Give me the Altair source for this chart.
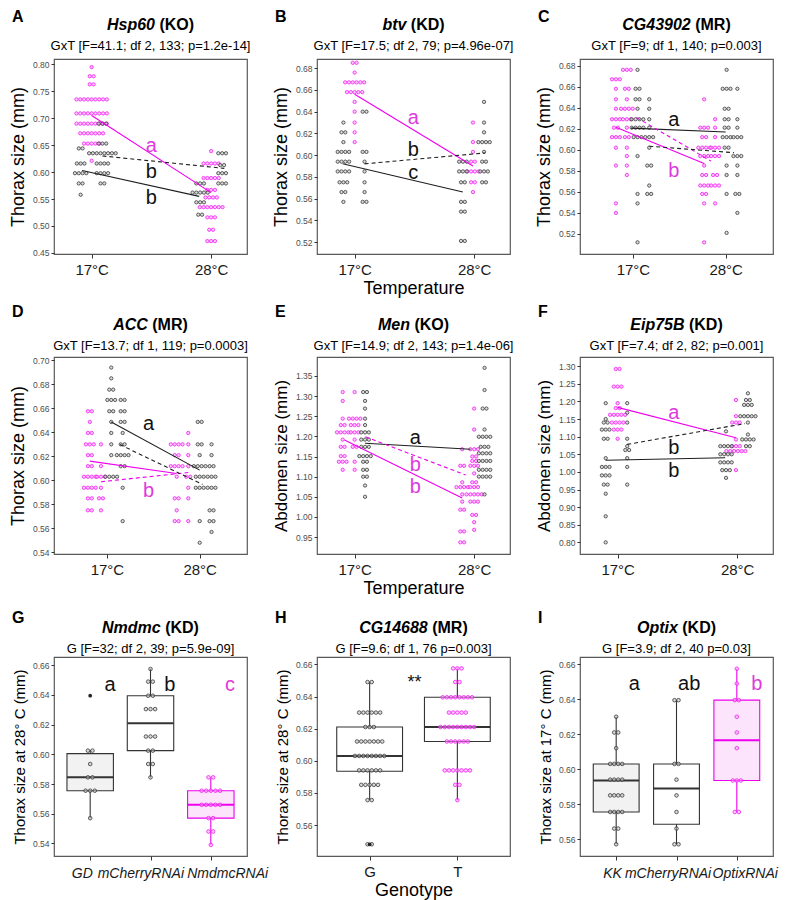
import altair as alt
import pandas as pd

FONT = "Liberation Sans"

# ------------------------------------------------------------------
# DATA: dot-plot bins as (value, number of dots)
# ------------------------------------------------------------------
# A  Hsp60 (KO)
A17_M = [(0.795, 1), (0.778, 2), (0.763, 2), (0.735, 9), (0.709, 9), (0.690, 9), (0.672, 7), (0.653, 5), (0.621, 1)]
A17_K1 = [(0.644, 2), (0.616, 3), (0.598, 4), (0.579, 2), (0.558, 1)]
A17_K2 = [(0.690, 3), (0.653, 3), (0.635, 8), (0.616, 4), (0.598, 4), (0.579, 2)]
A28_M = [(0.639, 1), (0.616, 5), (0.589, 5), (0.567, 3), (0.553, 4), (0.535, 7), (0.516, 3), (0.493, 2), (0.472, 3)]
A28_K1 = [(0.579, 3), (0.562, 5), (0.544, 3), (0.521, 2)]
A28_K2 = [(0.635, 3), (0.613, 2), (0.598, 3), (0.579, 3)]
A_MEANS = [(0.705, 0.562), (0.630, 0.607), (0.603, 0.555)]
A_LETTERS = [("a", 0.649), ("b", 0.601), ("b", 0.552)]

# B  btv (KD)
B17_M = [(0.685, 2), (0.676, 1), (0.667, 6), (0.658, 5), (0.649, 1), (0.640, 1), (0.630, 1), (0.621, 1), (0.612, 1)]
B17_K1 = [(0.630, 1), (0.621, 2), (0.612, 1), (0.603, 4), (0.594, 4), (0.585, 4), (0.575, 3), (0.566, 2), (0.557, 1)]
B17_K2 = [(0.640, 2), (0.603, 2), (0.594, 1), (0.585, 1), (0.575, 1), (0.566, 1), (0.557, 2)]
B28_M = [(0.630, 1), (0.612, 1), (0.603, 1), (0.594, 2), (0.585, 4), (0.575, 2), (0.566, 1)]
B28_K1 = [(0.594, 3), (0.585, 3), (0.575, 2), (0.557, 2), (0.548, 2), (0.521, 2)]
B28_K2 = [(0.649, 1), (0.630, 1), (0.621, 1), (0.612, 4), (0.603, 1), (0.594, 2), (0.585, 3), (0.575, 2)]
B_MEANS = [(0.656, 0.590), (0.592, 0.602), (0.592, 0.566)]
B_LETTERS = [("a", 0.634), ("b", 0.605), ("c", 0.584)]

# C  CG43902 (MR)
C17_M1 = [(0.667, 3), (0.658, 1), (0.648, 1), (0.639, 1), (0.629, 3), (0.621, 2), (0.612, 3), (0.602, 1), (0.585, 1), (0.549, 1), (0.540, 1)]
C17_M2 = [(0.676, 3), (0.658, 2), (0.648, 1), (0.639, 4), (0.629, 3), (0.621, 1), (0.612, 2), (0.602, 1), (0.594, 1), (0.585, 1), (0.576, 1)]
C17_K1 = [(0.676, 1), (0.658, 2), (0.648, 2), (0.639, 1), (0.629, 4), (0.621, 4), (0.612, 3), (0.594, 1), (0.558, 1), (0.549, 1), (0.512, 1)]
C17_K2 = [(0.648, 1), (0.639, 1), (0.629, 1), (0.621, 1), (0.612, 3), (0.602, 1), (0.585, 2), (0.566, 1), (0.558, 2)]
C28_M1 = [(0.648, 1), (0.621, 3), (0.612, 2), (0.602, 4), (0.594, 3), (0.585, 1), (0.576, 2), (0.566, 3), (0.558, 2), (0.549, 1), (0.512, 1)]
C28_M2 = [(0.629, 1), (0.621, 1), (0.612, 1), (0.602, 3), (0.594, 3), (0.576, 2), (0.566, 3), (0.549, 1)]
C28_K1 = [(0.676, 1), (0.658, 3), (0.639, 2), (0.629, 2), (0.621, 2), (0.612, 3), (0.602, 2), (0.585, 1), (0.576, 1), (0.558, 1), (0.521, 1)]
C28_K2 = [(0.658, 1), (0.629, 1), (0.621, 1), (0.612, 3), (0.594, 3), (0.585, 1), (0.576, 1), (0.558, 2), (0.540, 1)]
C_MEANS = [(0.6215, 0.587), (0.6306, 0.5894), (0.6206, 0.6169), (0.6034, 0.5972)]
C_LETTERS = [("a", 0.628), ("b", 0.580)]

# D  ACC (MR)
D17_M1 = [(0.6576, 2), (0.6487, 1), (0.6395, 2), (0.630, 3), (0.621, 2), (0.6118, 2), (0.603, 4), (0.5938, 4), (0.585, 2), (0.575, 2)]
D17_M2 = [(0.630, 1), (0.6118, 1), (0.603, 3), (0.5938, 1), (0.585, 2), (0.575, 1)]
D17_K1 = [(0.694, 1), (0.685, 1), (0.6756, 2), (0.667, 3), (0.6576, 2), (0.6487, 1), (0.6395, 1), (0.630, 1), (0.621, 1), (0.603, 4)]
D17_K2 = [(0.667, 2), (0.6576, 2), (0.6487, 2), (0.6395, 1), (0.630, 2), (0.621, 4), (0.6118, 2), (0.5938, 1), (0.566, 1)]
D28_M1 = [(0.630, 4), (0.621, 2), (0.6118, 4), (0.603, 1), (0.585, 2), (0.575, 1), (0.566, 2)]
D28_M2 = [(0.6395, 1), (0.630, 1), (0.621, 1), (0.6118, 1), (0.603, 2), (0.5938, 1), (0.585, 1), (0.566, 1)]
D28_K1 = [(0.6487, 2), (0.630, 2), (0.621, 1), (0.6118, 4), (0.603, 3), (0.5938, 3), (0.566, 1), (0.548, 1)]
D28_K2 = [(0.630, 1), (0.621, 1), (0.6118, 2), (0.603, 3), (0.5938, 3), (0.575, 2), (0.566, 2), (0.557, 1)]
D_MEANS = [(0.616, 0.6057), (0.5988, 0.6065), (0.6487, 0.6085), (0.6298, 0.5966)]
D_LETTERS = [("a", 0.647), ("b", 0.591)]

# E  Men (KO)
E17_M1 = [(1.310, 1), (1.288, 1), (1.244, 1), (1.228, 2), (1.210, 4), (1.192, 1), (1.174, 2), (1.151, 2), (1.137, 3), (1.117, 1)]
E17_M2 = [(1.310, 1), (1.244, 4), (1.228, 3), (1.210, 3), (1.192, 1), (1.174, 2), (1.137, 1), (1.117, 1)]
E17_K = [(1.310, 2), (1.288, 1), (1.269, 1), (1.244, 1), (1.228, 1), (1.210, 3), (1.192, 3), (1.174, 3), (1.151, 4), (1.137, 2), (1.117, 2), (1.100, 2), (1.078, 1), (1.050, 1)]
E28_M1 = [(1.168, 1), (1.127, 2), (1.086, 1), (1.074, 4), (1.056, 1), (1.038, 1), (1.018, 2), (0.964, 2), (0.937, 2)]
E28_M2 = [(1.269, 1), (1.217, 1), (1.168, 3), (1.150, 2), (1.139, 2), (1.127, 3), (1.108, 1), (1.086, 2), (1.074, 3), (1.056, 5), (1.038, 3), (1.005, 2), (0.987, 1), (0.968, 1)]
E28_K = [(1.370, 1), (1.315, 1), (1.269, 2), (1.217, 1), (1.199, 4), (1.174, 3), (1.158, 4), (1.139, 4), (1.117, 4), (1.100, 4), (1.056, 1)]
E_MEANS = [(1.191, 1.047), (1.199, 1.104), (1.183, 1.168)]
E_LETTERS = [("a", 1.195), ("b", 1.129), ("b", 1.074)]

# F  Eip75B (KD)
F17_M = [(1.292, 2), (1.242, 3), (1.195, 1), (1.181, 2), (1.162, 5), (1.140, 4), (1.120, 3), (1.094, 1)]
F17_K1 = [(1.195, 1), (1.150, 1), (1.140, 2), (1.120, 3), (1.094, 2), (1.039, 1), (1.014, 3), (0.990, 3), (0.964, 2), (0.938, 1), (0.874, 1), (0.800, 1)]
F17_K2 = [(1.195, 1), (1.168, 1), (1.140, 1), (1.094, 1), (1.073, 1), (1.062, 2), (1.039, 1), (1.014, 1), (0.964, 1)]
F28_M = [(1.204, 1), (1.158, 1), (1.140, 3), (1.092, 1), (1.073, 3), (1.059, 6), (1.005, 1)]
F28_K1 = [(1.115, 1), (1.073, 4), (1.050, 4), (1.027, 4), (1.005, 3), (0.983, 1)]
F28_K2 = [(1.223, 1), (1.204, 2), (1.190, 3), (1.158, 5), (1.140, 1), (1.106, 1), (1.092, 4), (1.073, 2)]
F_MEANS = [(1.183, 1.097), (1.078, 1.137), (1.033, 1.040)]
F_LETTERS = [("a", 1.167), ("b", 1.069), ("b", 1.003)]

# G  Nmdmc (KD)   box stats: (whisker low, q1, median, q3, whisker high)
G_CATS = ["GD", "mCherryRNAi", "NmdmcRNAi"]
G_GD = [(0.6025, 2), (0.5935, 1), (0.5845, 2), (0.5755, 3), (0.557, 1)]
G_MCH = [(0.6575, 1), (0.649, 2), (0.6395, 2), (0.6305, 3), (0.612, 3), (0.6025, 2), (0.5935, 2), (0.5845, 1)]
G_NMD = [(0.5845, 2), (0.5755, 5), (0.566, 5), (0.557, 2), (0.548, 2), (0.539, 1)]
G_BOX = [(0.557, 0.5755, 0.5845, 0.6005, 0.603), (0.5845, 0.6025, 0.621, 0.6395, 0.6575), (0.539, 0.557, 0.566, 0.5755, 0.5845)]
G_OUT = [(0, 0.6395)]
G_LETTERS = ["a", "b", "c"]

# H  CG14688 (MR)
H_CATS = ["G", "T"]
H_G = [(0.649, 2), (0.630, 6), (0.621, 3), (0.612, 7), (0.603, 8), (0.594, 6), (0.585, 5), (0.5755, 2), (0.548, 2)]
H_T = [(0.6575, 3), (0.649, 2), (0.6395, 8), (0.630, 5), (0.621, 9), (0.612, 6), (0.594, 7), (0.585, 2), (0.5755, 1)]
H_BOX = [(0.5755, 0.5935, 0.603, 0.621, 0.649), (0.5755, 0.612, 0.621, 0.6395, 0.6575)]
H_OUT = [(0, 0.548)]

# I  Optix (KD)
I_CATS = ["KK", "mCherryRNAi", "OptixRNAi"]
I_KK = [(0.630, 1), (0.621, 2), (0.612, 1), (0.603, 4), (0.594, 4), (0.585, 4), (0.5755, 4), (0.566, 2), (0.557, 1)]
I_MCH = [(0.6395, 2), (0.603, 2), (0.594, 1), (0.585, 1), (0.5755, 1), (0.566, 1), (0.557, 2)]
I_OPT = [(0.6575, 1), (0.649, 1), (0.6395, 2), (0.630, 1), (0.621, 1), (0.612, 1), (0.5935, 3), (0.5755, 2)]
I_BOX = [(0.557, 0.5755, 0.5935, 0.603, 0.630), (0.557, 0.5685, 0.589, 0.603, 0.6395), (0.5755, 0.5935, 0.6165, 0.6395, 0.6575)]
I_LETTERS = ["a", "ab", "b"]

# ------------------------------------------------------------------
# STYLE / LAYOUT
# ------------------------------------------------------------------
W = 193
ROW_H = [195, 197, 199]
# (gene title baseline, subtitle baseline, panel letter baseline) relative to plot top
ROW_OFF = [(-29.4, -9.4, -37.0), (-26.7, -6.7, -40.0), (-23.7, -4.3, -34.3)]

MAG = "#EE00EE"
MAG_TXT = "#DD3BDD"
MAG_DOT = "#F21DF2"
MAG_FILL = "#F7A0F7"
BLK = "#1E1E1E"
BLK_DOT = "#3A3A3A"
BLK_FILL = "#BEBEBE"
PINK_BOX = "#FCE4FC"
GREY_BOX = "#F2F2F2"
BOX_STROKE = "#333333"

COL = {"m": MAG, "k": BLK}
TXT_COL = {"m": MAG_TXT, "k": "#111111"}

AB_W = {'H': 722, 's': 556, 'p': 611, '6': 556, '0': 556, 'b': 611, 't': 333, 'v': 556, 'C': 722,
        'G': 778, '4': 556, '3': 556, '9': 556, '2': 556, 'A': 722, 'M': 833, 'e': 556, 'n': 611,
        'E': 667, 'i': 278, '7': 556, '5': 556, 'B': 722, 'N': 722, 'm': 889, 'd': 611, 'c': 556,
        '1': 556, '8': 556, 'O': 778, 'x': 556, 'K': 722, 'D': 722, 'R': 722, '(': 333, ')': 333,
        ' ': 278, 'o': 611}


def text_w(s, size):
    return sum(AB_W.get(ch, 600) for ch in s) * size / 1000.0


def one(text):
    return pd.DataFrame({"t": [text]})


def title_layers(gene, suffix, sub, letter, row):
    t_off, s_off, l_off = ROW_OFF[row]
    fs = 16
    wg, wsp, wsf = text_w(gene, fs), text_w(" ", fs), text_w(suffix, fs)
    xg = W / 2 - (wg + wsp + wsf) / 2 + wg
    return [
        alt.Chart(one(gene)).mark_text(align="right", baseline="alphabetic", fontSize=fs, fontWeight="bold",
                                       fontStyle="italic", color="black").encode(
            text="t:N", x=alt.value(xg), y=alt.value(t_off)),
        alt.Chart(one(suffix)).mark_text(align="left", baseline="alphabetic", fontSize=fs, fontWeight="bold",
                                         color="black").encode(
            text="t:N", x=alt.value(xg + wsp), y=alt.value(t_off)),
        alt.Chart(one(sub)).mark_text(align="center", baseline="alphabetic", fontSize=13,
                                      color="black").encode(
            text="t:N", x=alt.value(W / 2), y=alt.value(s_off)),
        alt.Chart(one(letter)).mark_text(align="left", baseline="alphabetic", fontSize=16, fontWeight="bold",
                                         color="black").encode(
            text="t:N", x=alt.value(-42), y=alt.value(l_off)),
    ]


def x_axis(values, labels, title, show_labels=True):
    expr = "'" + labels[-1] + "'"
    for v, lab in reversed(list(zip(values[:-1], labels[:-1]))):
        expr = "datum.value == %d ? '%s' : %s" % (v, lab, expr)
    kw = dict(values=values, labelExpr=expr, title=title, labelFontSize=15, labelColor="#1A1A1A",
              tickSize=4, tickColor="#333333", labelPadding=4, domain=False, grid=False,
              labelOverlap=False, labelFlush=False, titleFontSize=18, titleFontWeight="normal",
              titleColor="black", titlePadding=2, labels=show_labels)
    return alt.Axis(**kw)


def y_axis(values, title, tsize):
    return alt.Axis(values=values, format=".2f", labelFontSize=8.5, labelColor="#4D4D4D", tickSize=3,
                    tickColor="#333333", labelPadding=2, domain=False, grid=False, title=title,
                    titleFontSize=tsize, titleFontWeight="normal", titleColor="black", titlePadding=5,
                    labelFlush=False, labelOverlap=False)


def dot_layers(df, X, Y, size):
    out = []
    for kind, stroke, fill in (("m", MAG_DOT, MAG_FILL), ("k", BLK_DOT, BLK_FILL)):
        sub = df[df["kind"] == kind]
        if len(sub):
            out.append(alt.Chart(sub).mark_point(shape="circle", size=size, strokeWidth=0.8, opacity=1).encode(
                x=X, y=Y, fill=alt.value(fill), fillOpacity=alt.value(0.55), stroke=alt.value(stroke)))
    return out


def stack(rows, center, bins, step, kind):
    for v, n in bins:
        for k in range(n):
            rows.append({"x": center + (k - (n - 1) / 2) * step, "y": v, "kind": kind})


def gxt_panel(p, row):
    xdom = p["xdom"]
    ppu = W / (xdom[1] - xdom[0])
    step = p["dot_px"] / ppu
    rows = []
    for kind, b17, b28, o17, o28 in p["groups"]:
        stack(rows, 0 + o17, b17, step, kind)
        stack(rows, 1 + o28, b28, step, kind)
    df = pd.DataFrame(rows)
    xs = alt.Scale(domain=xdom, nice=False, zero=False)
    ys = alt.Scale(domain=p["ydom"], nice=False, zero=False)
    xa = x_axis([0, 1], ["17°C", "28°C"], p.get("xtitle"))
    ya = y_axis(p["yticks"], p["ytitle"], p.get("ytsize", 18))
    X = alt.X("x:Q", scale=xs, axis=xa)
    Y = alt.Y("y:Q", scale=ys, axis=ya)
    layers = dot_layers(df, X, Y, 11)
    seg = []
    for (kind, dashed, o17, o28), (v17, v28) in zip(p["lines"], p["means"]):
        seg.append({"x": 0 + o17, "x2": 1 + o28, "y": v17, "y2": v28, "c": COL[kind], "d": dashed})
    seg = pd.DataFrame(seg)
    for dashed in (False, True):
        sub = seg[seg["d"] == dashed]
        if len(sub):
            mk = dict(strokeWidth=1.1)
            if dashed:
                mk["strokeDash"] = [4, 3]
            layers.append(alt.Chart(sub).mark_rule(**mk).encode(
                x=X, x2=alt.X2("x2"), y=Y, y2=alt.Y2("y2"), color=alt.Color("c:N", scale=None)))
    lt = pd.DataFrame([{"x": p["letter_x"], "y": y, "t": t, "c": TXT_COL[k]}
                       for (t, y), k in zip(p["letters"], p["letter_kinds"])])
    layers.append(alt.Chart(lt).mark_text(fontSize=20, baseline="middle", align="center").encode(
        x=X, y=Y, text="t:N", color=alt.Color("c:N", scale=None)))
    layers += title_layers(p["gene"], p["suffix"], p["sub"], p["letter"], row)
    return alt.layer(*layers).properties(width=W, height=ROW_H[row])


def box_panel(p, row):
    xdom = p["xdom"]
    ppu = W / (xdom[1] - xdom[0])
    step = p["dot_px"] / ppu
    rows = []
    for i, (bins, kind) in enumerate(p["dots"]):
        stack(rows, i, bins, step, kind)
    df = pd.DataFrame(rows)
    hw = p["half"]
    bx = pd.DataFrame([{"x": i, "xl": i - hw, "xr": i + hw, "lo": b[0], "q1": b[1], "med": b[2],
                        "q3": b[3], "hi": b[4], "fill": f, "stroke": s}
                       for i, (b, f, s) in enumerate(zip(p["box"], p["fills"], p["strokes"]))])
    xs = alt.Scale(domain=xdom, nice=False, zero=False)
    ys = alt.Scale(domain=p["ydom"], nice=False, zero=False)
    n = len(p["cats"])
    custom = "label_x" in p
    xa = x_axis(list(range(n)), p["cats"], p.get("xtitle"), show_labels=not custom)
    ya = y_axis(p["yticks"], p["ytitle"], 15)
    X = lambda f: alt.X(f + ":Q", scale=xs, axis=xa)
    Y = lambda f: alt.Y(f + ":Q", scale=ys, axis=ya)
    layers = [
        alt.Chart(bx).mark_rule(strokeWidth=1.1).encode(
            x=X("x"), y=Y("lo"), y2=alt.Y2("hi"), color=alt.Color("stroke:N", scale=None)),
        alt.Chart(bx).mark_rect(strokeWidth=1.1).encode(
            x=X("xl"), x2=alt.X2("xr"), y=Y("q1"), y2=alt.Y2("q3"),
            fill=alt.Color("fill:N", scale=None), stroke=alt.Color("stroke:N", scale=None)),
        alt.Chart(bx).mark_rule(strokeWidth=2).encode(
            x=X("xl"), x2=alt.X2("xr"), y=Y("med"), color=alt.Color("stroke:N", scale=None)),
    ]
    layers += dot_layers(df, X("x"), Y("y"), 13)
    if p.get("out"):
        od = pd.DataFrame([{"x": i, "y": v} for i, v in p["out"]])
        layers.append(alt.Chart(od).mark_point(shape="circle", size=14, filled=True, opacity=1).encode(
            x=X("x"), y=Y("y"), color=alt.value("#222222")))
    lt = pd.DataFrame([{"x": x, "y": p["letter_y"], "t": t, "c": TXT_COL[k]}
                       for t, x, k in zip(p["letters"], p["letter_x"], p["letter_kinds"])])
    layers.append(alt.Chart(lt).mark_text(fontSize=p.get("letter_size", 20), baseline="middle",
                                          align="center").encode(
        x=X("x"), y=Y("y"), text="t:N", color=alt.Color("c:N", scale=None)))
    if custom:
        # italic category labels, set where the reference prints them
        cl = pd.DataFrame({"x": p["label_x"], "t": p["cats"]})
        layers.append(alt.Chart(cl).mark_text(fontSize=14, fontStyle="italic", baseline="top", align="center",
                                              color="#1A1A1A").encode(
            x=X("x"), y=alt.value(ROW_H[row] + 10.5), text="t:N"))
    layers += title_layers(p["gene"], p["suffix"], p["sub"], p["letter"], row)
    return alt.layer(*layers).properties(width=W, height=ROW_H[row])


def ticks(lo, hi, st):
    n = int(round((hi - lo) / st))
    return [round(lo + st * i, 2) for i in range(n + 1)]


XD3 = [-0.315, 1.30]
XD4 = [-0.57, 1.51]

PA = dict(gene="Hsp60", suffix="(KO)", sub="GxT [F=41.1; df 2, 133; p=1.2e-14]", letter="A",
          xdom=XD3, ydom=[0.448, 0.81], yticks=ticks(0.45, 0.80, 0.05), ytitle="Thorax size (mm)", dot_px=3.8,
          groups=[("m", A17_M, A28_M, 0.0, 0.0), ("k", A17_K1, A28_K1, -0.092, -0.092),
                  ("k", A17_K2, A28_K2, 0.09, 0.092)],
          lines=[("m", False, 0.0, 0.0), ("k", True, 0.09, 0.11), ("k", False, -0.08, -0.10)], means=A_MEANS,
          letters=A_LETTERS, letter_kinds=["m", "k", "k"], letter_x=0.5)
PB = dict(gene="btv", suffix="(KD)", sub="GxT [F=17.5; df 2, 79; p=4.96e-07]", letter="B",
          xdom=XD3, ydom=[0.509, 0.6885], yticks=ticks(0.52, 0.68, 0.02), ytitle="Thorax size (mm)", dot_px=3.8,
          xtitle="Temperature",
          groups=[("m", B17_M, B28_M, 0.0, -0.01), ("k", B17_K1, B28_K1, -0.094, -0.094),
                  ("k", B17_K2, B28_K2, 0.083, 0.083)],
          lines=[("m", False, 0.0, -0.01), ("k", True, 0.083, 0.09), ("k", False, -0.10, -0.095)], means=B_MEANS,
          letters=B_LETTERS, letter_kinds=["m", "k", "k"], letter_x=0.49)
PC = dict(gene="CG43902", suffix="(MR)", sub="GxT [F=9; df 1, 140; p=0.003]", letter="C",
          xdom=XD4, ydom=[0.5009, 0.6863], yticks=ticks(0.52, 0.68, 0.02), ytitle="Thorax size (mm)", dot_px=3.9,
          groups=[("m", C17_M1, C28_M1, -0.183, -0.232), ("m", C17_M2, C28_M2, -0.065, -0.114),
                  ("k", C17_K1, C28_K1, 0.05, 0.01), ("k", C17_K2, C28_K2, 0.176, 0.126)],
          lines=[("m", False, -0.183, -0.232), ("m", True, 0.04, -0.16), ("k", False, -0.02, 0.0),
                 ("k", True, 0.176, 0.09)], means=C_MEANS,
          letters=C_LETTERS, letter_kinds=["k", "m"], letter_x=0.44)
PD = dict(gene="ACC", suffix="(MR)", sub="GxT [F=13.7; df 1, 119; p=0.0003]", letter="D",
          xdom=XD4, ydom=[0.5386, 0.7028], yticks=ticks(0.54, 0.70, 0.02), ytitle="Thorax size (mm)", dot_px=3.9,
          groups=[("m", D17_M1, D28_M1, -0.184, -0.248), ("m", D17_M2, D28_M2, -0.064, -0.123),
                  ("k", D17_K1, D28_K1, 0.047, 0.0), ("k", D17_K2, D28_K2, 0.17, 0.128)],
          lines=[("m", False, -0.184, -0.248), ("m", True, -0.064, -0.123), ("k", False, 0.047, 0.0),
                 ("k", True, 0.14, 0.03)], means=D_MEANS,
          letters=D_LETTERS, letter_kinds=["k", "m"], letter_x=0.45)
PE = dict(gene="Men", suffix="(KO)", sub="GxT [F=14.9; df 2, 143; p=1.4e-06]", letter="E",
          xdom=XD3, ydom=[0.908, 1.397], yticks=ticks(0.95, 1.35, 0.05), ytitle="Abdomen size (mm)", ytsize=17,
          dot_px=3.8, xtitle="Temperature",
          groups=[("m", E17_M1, E28_M1, -0.10, -0.10), ("m", E17_M2, E28_M2, 0.0, 0.0),
                  ("k", E17_K, E28_K, 0.087, 0.087)],
          lines=[("m", False, -0.085, -0.10), ("m", True, 0.09, -0.07), ("k", False, 0.087, -0.03)], means=E_MEANS,
          letters=E_LETTERS, letter_kinds=["k", "m", "m"], letter_x=0.507)
PF = dict(gene="Eip75B", suffix="(KD)", sub="GxT [F=7.4; df 2, 82; p=0.001]", letter="F",
          xdom=XD3, ydom=[0.767, 1.326], yticks=ticks(0.80, 1.30, 0.05), ytitle="Abdomen size (mm)", ytsize=17,
          dot_px=3.8,
          groups=[("m", F17_M, F28_M, 0.0, -0.01), ("k", F17_K1, F28_K1, -0.10, -0.093),
                  ("k", F17_K2, F28_K2, 0.08, 0.09)],
          lines=[("m", False, 0.0, -0.01), ("k", True, 0.08, 0.065), ("k", False, -0.10, -0.10)], means=F_MEANS,
          letters=F_LETTERS, letter_kinds=["m", "k", "k"], letter_x=0.47)

PG = dict(gene="Nmdmc", suffix="(KD)", sub="G [F=32; df 2, 39; p=5.9e-09]", letter="G",
          cats=G_CATS, label_x=[-0.13, 0.84, 2.28], xdom=[-0.6, 2.6], ydom=[0.5315, 0.6656],
          yticks=ticks(0.54, 0.66, 0.02),
          ytitle="Thorax size at 28° C (mm)", dot_px=4.6, half=0.385,
          dots=[(G_GD, "k"), (G_MCH, "k"), (G_NMD, "m")], box=G_BOX,
          fills=[GREY_BOX, "#FFFFFF", PINK_BOX], strokes=[BOX_STROKE, BOX_STROKE, MAG], out=G_OUT,
          letters=G_LETTERS, letter_x=[0.33, 1.32, 2.32], letter_kinds=["k", "k", "m"], letter_y=0.647)
PH = dict(gene="CG14688", suffix="(MR)", sub="G [F=9.6; df 1, 76 p=0.003]", letter="H",
          cats=H_CATS, xdom=[-0.6, 1.6], ydom=[0.5407, 0.6646], yticks=ticks(0.56, 0.66, 0.02),
          ytitle="Thorax size at 28° C (mm)", xtitle="Genotype", dot_px=4.2, half=0.375,
          dots=[(H_G, "k"), (H_T, "m")], box=H_BOX,
          fills=["#FFFFFF", "#FFFFFF"], strokes=[BOX_STROKE, BOX_STROKE], out=H_OUT,
          letters=["**"], letter_x=[0.51], letter_kinds=["k"], letter_y=0.6486, letter_size=18)
PI = dict(gene="Optix", suffix="(KD)", sub="G [F=3.9; df 2, 40 p=0.03]", letter="I",
          cats=I_CATS, label_x=[-0.06, 0.86, 2.14], xdom=[-0.6, 2.6], ydom=[0.5503, 0.6642],
          yticks=ticks(0.56, 0.66, 0.02),
          ytitle="Thorax size at 17° C (mm)", dot_px=4.0, half=0.38,
          dots=[(I_KK, "k"), (I_MCH, "k"), (I_OPT, "m")], box=I_BOX,
          fills=[GREY_BOX, "#FFFFFF", PINK_BOX], strokes=[BOX_STROKE, BOX_STROKE, MAG],
          letters=I_LETTERS, letter_x=[0.30, 1.21, 2.33], letter_kinds=["k", "k", "m"], letter_y=0.6485)

panels = [gxt_panel(PA, 0), gxt_panel(PB, 0), gxt_panel(PC, 0),
          gxt_panel(PD, 1), gxt_panel(PE, 1), gxt_panel(PF, 1),
          box_panel(PG, 2), box_panel(PH, 2), box_panel(PI, 2)]

chart = alt.concat(*panels, columns=3, spacing={"row": 103, "column": 70}, bounds="flush").properties(
    padding={"left": 0, "top": 0, "right": 0, "bottom": 0}
).configure(font=FONT).configure_view(stroke="#5A5A5A", strokeWidth=1.2)

chart.save("out.html", embed_options={"renderer": "svg", "actions": False})
